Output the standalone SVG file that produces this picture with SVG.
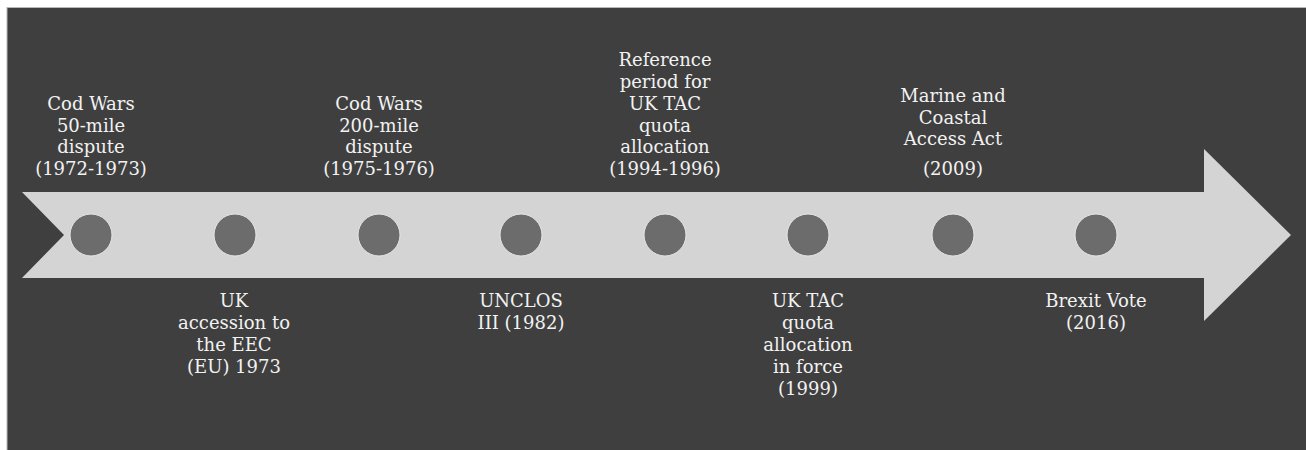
<svg xmlns="http://www.w3.org/2000/svg" width="1306" height="450" viewBox="0 0 1306 450">
<style>
.lbl{font-family:"DejaVu Serif","Liberation Serif",serif;font-size:18px;fill:#f2f2f2;text-anchor:middle}
.dot{fill:#6c6c6c;stroke:#e6e6e6;stroke-width:1}
</style>
<rect x="0" y="0" width="1306" height="450" fill="#ffffff"/>
<rect x="7" y="7.5" width="1300" height="444" fill="#3f3f3f" stroke="#b8b8b8" stroke-width="1"/>
<g id="arrow">
<polygon points="22,192 1204,192 1204,149 1291,235 1204,321 1204,278 22,278 64,235" fill="#d4d4d4"/>
</g>
<g id="connectors"></g>
<g id="n1"><circle class="dot" cx="91" cy="235" r="21"/>
<text class="lbl" x="91" y="110">Cod Wars</text><text class="lbl" x="91" y="131.5">50-mile</text><text class="lbl" x="91" y="153">dispute</text><text class="lbl" x="91" y="174.5">(1972-1973)</text></g>
<g id="n2"><circle class="dot" cx="235" cy="235" r="21"/>
<text class="lbl" x="234" y="307">UK</text><text class="lbl" x="234" y="329">accession to</text><text class="lbl" x="234" y="351">the EEC</text><text class="lbl" x="234" y="373">(EU) 1973</text></g>
<g id="n3"><circle class="dot" cx="379" cy="235" r="21"/>
<text class="lbl" x="379" y="110">Cod Wars</text><text class="lbl" x="379" y="131.5">200-mile</text><text class="lbl" x="379" y="153">dispute</text><text class="lbl" x="379" y="174.5">(1975-1976)</text></g>
<g id="n4"><circle class="dot" cx="521" cy="235" r="21"/>
<text class="lbl" x="521" y="307">UNCLOS</text><text class="lbl" x="521" y="329">III (1982)</text></g>
<g id="n5"><circle class="dot" cx="665" cy="235" r="21"/>
<text class="lbl" x="665" y="66">Reference</text><text class="lbl" x="665" y="88">period for</text><text class="lbl" x="665" y="110">UK TAC</text><text class="lbl" x="665" y="131.5">quota</text><text class="lbl" x="665" y="153">allocation</text><text class="lbl" x="665" y="174.5">(1994-1996)</text></g>
<g id="n6"><circle class="dot" cx="808" cy="235" r="21"/>
<text class="lbl" x="808" y="307">UK TAC</text><text class="lbl" x="808" y="329">quota</text><text class="lbl" x="808" y="351">allocation</text><text class="lbl" x="808" y="373">in force</text><text class="lbl" x="808" y="395">(1999)</text></g>
<g id="n7"><circle class="dot" cx="953" cy="235" r="21"/>
<text class="lbl" x="953" y="102">Marine and</text><text class="lbl" x="953" y="123.5">Coastal</text><text class="lbl" x="953" y="145">Access Act</text><text class="lbl" x="953" y="175">(2009)</text></g>
<g id="n8"><circle class="dot" cx="1096" cy="235" r="21"/>
<text class="lbl" x="1096" y="307">Brexit Vote</text><text class="lbl" x="1096" y="329">(2016)</text></g>
</svg>
